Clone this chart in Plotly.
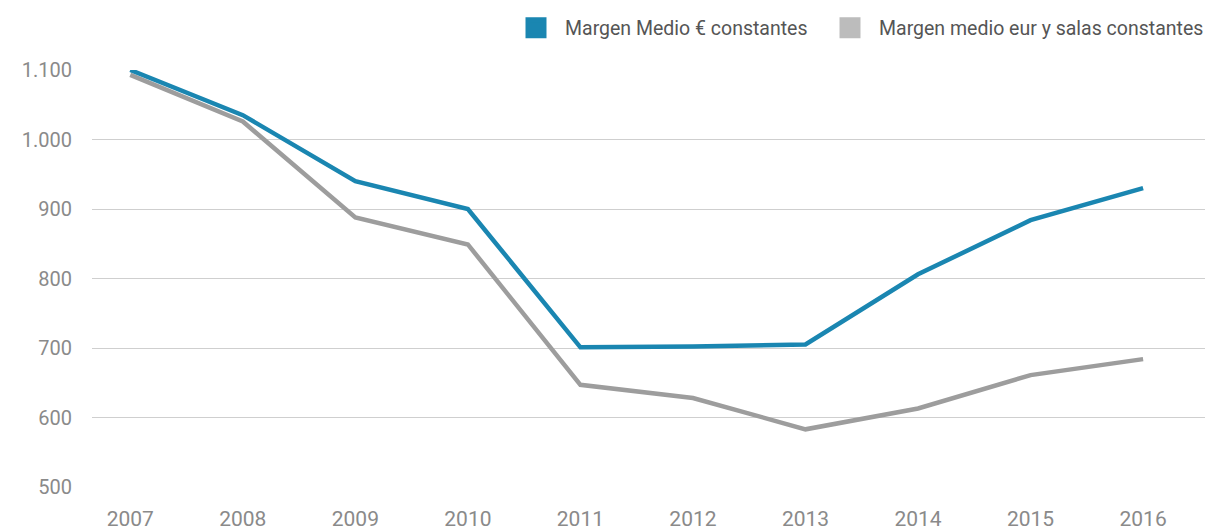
import plotly.graph_objects as go

years = [2007, 2008, 2009, 2010, 2011, 2012, 2013, 2014, 2015, 2016]
margen_medio = [1100, 1035, 940, 900, 701, 702, 705, 806, 884, 930]
margen_salas = [1093, 1026, 888, 849, 647, 628, 583, 613, 661, 684]
y_ticks = [500, 600, 700, 800, 900, 1000, 1100]
y_labels = ["500", "600", "700", "800", "900", "1.000", "1.100"]
names = ["Margen Medio € constantes", "Margen medio eur y salas constantes"]

BLUE = "#1a86b1"
GRAY = "#9d9d9d"
GRAY_LEG = "#bcbcbc"
FONT = "Roboto, sans-serif"
W, H = 1207, 530

fig = go.Figure()
fig.add_trace(go.Scatter(x=years, y=margen_salas, mode="lines", line=dict(color=GRAY, width=4.5),
                         showlegend=False, cliponaxis=False))
fig.add_trace(go.Scatter(x=years, y=margen_medio, mode="lines", line=dict(color=BLUE, width=4.5),
                         showlegend=False, cliponaxis=False))
fig.add_trace(go.Scatter(x=[None], y=[None], mode="markers", name=names[0], legend="legend",
                         marker=dict(symbol="square", size=16, color=BLUE,
                                     line=dict(color=BLUE, width=5))))
fig.add_trace(go.Scatter(x=[None], y=[None], mode="markers", name=names[1], legend="legend2",
                         marker=dict(symbol="square", size=16, color=GRAY_LEG,
                                     line=dict(color=GRAY_LEG, width=5))))

leg_common = dict(orientation="h", xref="container", yref="container", xanchor="left",
                  yanchor="middle", y=1 - 28 / H,
                  font=dict(size=19.5, color="#555555", family=FONT),
                  itemwidth=48, bgcolor="rgba(0,0,0,0)")

fig.update_layout(
    width=W, height=H,
    margin=dict(l=92, r=2, t=70, b=43, autoexpand=False),
    paper_bgcolor="white", plot_bgcolor="white",
    font=dict(family=FONT, color="#8a8a8a"),
    legend=dict(leg_common, x=507 / W),
    legend2=dict(leg_common, x=821 / W),
    xaxis=dict(range=[2006.66, 2016.55], tickvals=years, ticktext=[str(y) for y in years],
               showgrid=False, zeroline=False, showline=False, automargin=False,
               tickfont=dict(size=21, color="#8a8a8a"), ticklabelstandoff=17, fixedrange=True),
    yaxis=dict(range=[500, 1100], tickvals=y_ticks, ticktext=y_labels, automargin=False,
               showgrid=True, gridcolor="#cfcfcf", gridwidth=1.2, zeroline=False, showline=False,
               tickfont=dict(size=20, color="#8a8a8a"), ticklabelstandoff=19, fixedrange=True),
)

fig.write_html("out.html", config={"displayModeBar": False},
               post_script="document.body.style.margin='0';document.body.style.overflow='hidden';")
